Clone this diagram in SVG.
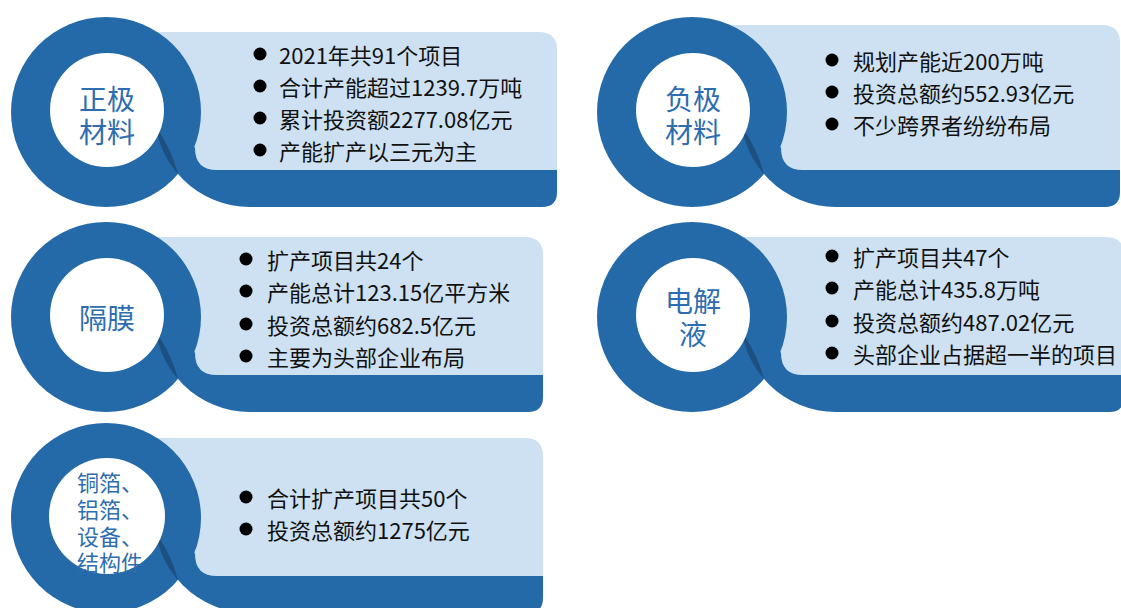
<svg xmlns="http://www.w3.org/2000/svg" width="1121" height="608" viewBox="0 0 1121 608">
<defs>
<style>
.dark{fill:#2469a8}
.light{fill:#cde1f3}
.shade{fill:#1d4f80}
.hole{fill:#ffffff}
.title{font-family:"Noto Sans CJK SC","Noto Sans",sans-serif;font-size:28px;fill:#2e6db0;text-anchor:middle;dominant-baseline:central}
.title5{font-family:"Noto Sans CJK SC","Noto Sans",sans-serif;font-size:22px;fill:#2e6db0;dominant-baseline:central}
.body{font-family:"Noto Sans CJK SC","Noto Sans",sans-serif;font-size:22px;fill:#111111;dominant-baseline:central}
.dot{fill:#000000}
</style>
</defs>
<rect width="1121" height="608" fill="#ffffff"/>
<g id="connectors"/>

<g id="card-cathode">
<path class="dark" d="M155,112 A95 95 0 0 0 250,207 H542 Q557,207 557,192 V150 L250,112 Z"/>
<path class="light" d="M106,32 H539 Q557,32 557,50 V170 H217 Q195,170 195,148 L190,140 L106,112 Z"/>
<circle class="dark" cx="106" cy="112" r="95"/>
<path class="shade" d="M156,127 A95 95 0 0 0 178,174 A150 150 0 0 0 156,127 Z"/>
<circle class="hole" cx="107" cy="110" r="57"/>
<text class="title" x="107" y="98">正极<tspan x="107" dy="33">材料</tspan></text>
<circle class="dot" cx="260" cy="54" r="6.5"/>
<text class="body" x="279" y="54">2021年共91个项目</text>
<circle class="dot" cx="260" cy="86" r="6.5"/>
<text class="body" x="279" y="86">合计产能超过1239.7万吨</text>
<circle class="dot" cx="260" cy="118" r="6.5"/>
<text class="body" x="279" y="118">累计投资额2277.08亿元</text>
<circle class="dot" cx="260" cy="150" r="6.5"/>
<text class="body" x="279" y="150">产能扩产以三元为主</text>
</g>

<g id="card-anode">
<path class="dark" d="M741,112 A95 95 0 0 0 836,207 H1105 Q1120,207 1120,192 V150 L836,112 Z"/>
<path class="light" d="M692,25 H1102 Q1120,25 1120,43 V170 H803 Q781,170 781,148 L776,140 L692,112 Z"/>
<circle class="dark" cx="692" cy="112" r="95"/>
<path class="shade" d="M742,127 A95 95 0 0 0 764,174 A150 150 0 0 0 742,127 Z"/>
<circle class="hole" cx="693" cy="110" r="57"/>
<text class="title" x="693" y="98">负极<tspan x="693" dy="33">材料</tspan></text>
<circle class="dot" cx="832" cy="60" r="6.5"/>
<text class="body" x="853" y="60">规划产能近200万吨</text>
<circle class="dot" cx="832" cy="92" r="6.5"/>
<text class="body" x="853" y="92">投资总额约552.93亿元</text>
<circle class="dot" cx="832" cy="124" r="6.5"/>
<text class="body" x="853" y="124">不少跨界者纷纷布局</text>
</g>

<g id="card-separator">
<path class="dark" d="M155,317 A95 95 0 0 0 250,412 H528 Q543,412 543,397 V355 L250,317 Z"/>
<path class="light" d="M106,237 H525 Q543,237 543,255 V375 H217 Q195,375 195,353 L190,345 L106,317 Z"/>
<circle class="dark" cx="106" cy="317" r="95"/>
<path class="shade" d="M156,332 A95 95 0 0 0 178,379 A150 150 0 0 0 156,332 Z"/>
<circle class="hole" cx="107" cy="315" r="57"/>
<text class="title" x="107" y="317">隔膜</text>
<circle class="dot" cx="246" cy="259" r="6.5"/>
<text class="body" x="267" y="259">扩产项目共24个</text>
<circle class="dot" cx="246" cy="291" r="6.5"/>
<text class="body" x="267" y="291">产能总计123.15亿平方米</text>
<circle class="dot" cx="246" cy="324" r="6.5"/>
<text class="body" x="267" y="324">投资总额约682.5亿元</text>
<circle class="dot" cx="246" cy="356" r="6.5"/>
<text class="body" x="267" y="356">主要为头部企业布局</text>
</g>

<g id="card-electrolyte">
<path class="dark" d="M741,317 A95 95 0 0 0 836,412 H1109 Q1124,412 1124,397 V355 L836,317 Z"/>
<path class="light" d="M692,237 H1106 Q1124,237 1124,255 V375 H803 Q781,375 781,353 L776,345 L692,317 Z"/>
<circle class="dark" cx="692" cy="317" r="95"/>
<path class="shade" d="M742,332 A95 95 0 0 0 764,379 A150 150 0 0 0 742,332 Z"/>
<circle class="hole" cx="693" cy="315" r="57"/>
<text class="title" x="693" y="300">电解<tspan x="693" dy="33">液</tspan></text>
<circle class="dot" cx="832" cy="256" r="6.5"/>
<text class="body" x="853" y="256">扩产项目共47个</text>
<circle class="dot" cx="832" cy="288" r="6.5"/>
<text class="body" x="853" y="288">产能总计435.8万吨</text>
<circle class="dot" cx="832" cy="321" r="6.5"/>
<text class="body" x="853" y="321">投资总额约487.02亿元</text>
<circle class="dot" cx="832" cy="353" r="6.5"/>
<text class="body" x="853" y="353">头部企业占据超一半的项目</text>
</g>

<g id="card-other">
<path class="dark" d="M155,518 A95 95 0 0 0 250,613 H528 Q543,613 543,598 V556 L250,518 Z"/>
<path class="light" d="M106,438 H525 Q543,438 543,456 V576 H217 Q195,576 195,554 L190,546 L106,518 Z"/>
<circle class="dark" cx="106" cy="518" r="95"/>
<path class="shade" d="M156,533 A95 95 0 0 0 178,580 A150 150 0 0 0 156,533 Z"/>
<circle class="hole" cx="107" cy="516" r="58"/>
<text class="title5" x="77" y="481">铜箔、<tspan x="77" dy="27">铝箔、</tspan><tspan x="77" dy="27">设备、</tspan><tspan x="77" dy="26">结构件</tspan></text>
<circle class="dot" cx="246" cy="497" r="6.5"/>
<text class="body" x="267" y="497">合计扩产项目共50个</text>
<circle class="dot" cx="246" cy="529" r="6.5"/>
<text class="body" x="267" y="529">投资总额约1275亿元</text>
</g>
</svg>
